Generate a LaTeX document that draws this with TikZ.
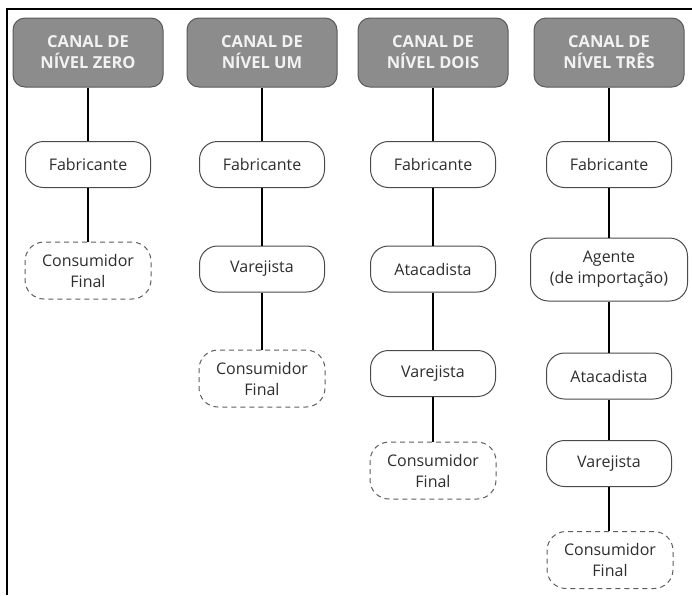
\documentclass[tikz,border=0pt]{standalone}
\usepackage{fontspec}
\setmainfont{Open Sans}
\definecolor{hdrfill}{HTML}{8C8C8C}
\definecolor{hdrdraw}{HTML}{5A5A5A}
\definecolor{hdrtext}{HTML}{F2F2F2}
\definecolor{boxtext}{HTML}{2E2E2E}
\definecolor{boxdraw}{HTML}{4A4A4A}
\definecolor{dashdraw}{HTML}{5E5E5E}
\begin{document}
\begin{tikzpicture}[x=1pt,y=-1pt,
  hdr/.style={draw=hdrdraw, line width=1pt, fill=hdrfill, rounded corners=12pt,
    minimum width=150pt, minimum height=69pt, align=center, text=hdrtext,
    font=\fontsize{16.5}{21}\selectfont\bfseries, inner sep=0pt},
  stage/.style={draw=boxdraw, line width=1pt, rounded corners=18pt,
    minimum width=125pt, minimum height=46pt, align=center, text=boxtext,
    font=\fontsize{16}{21}\selectfont, inner sep=0pt},
  final/.style={draw=dashdraw, line width=1pt, dash pattern=on 5pt off 4pt, rounded corners=19pt,
    minimum width=126pt, minimum height=57pt, align=center, text=boxtext,
    font=\fontsize{16}{21}\selectfont, inner sep=0pt},
  link/.style={line width=1.4pt, draw=black}]
\useasboundingbox (0,0) rectangle (692,595);
\fill[white] (0,0) rectangle (692,595);
\draw[line width=2.4pt] (7,595) -- (7,9) -- (692,9);
% column 1
\node[hdr] (h1) at (88,52.5) {CANAL DE\\NÍVEL ZERO};
\node[stage] (f1) at (88,164.5) {Fabricante};
\node[final] (c1) at (88,270.5) {Consumidor\\Final};
% column 2
\node[hdr] (h2) at (262,52.5) {CANAL DE\\NÍVEL UM};
\node[stage] (f2) at (262,164.5) {Fabricante};
\node[stage] (v2) at (262,269) {Varejista};
\node[final] (c2) at (262,378.5) {Consumidor\\Final};
% column 3
\node[hdr] (h3) at (433,52.5) {CANAL DE\\NÍVEL DOIS};
\node[stage] (f3) at (433,164.5) {Fabricante};
\node[stage] (a3) at (433,269) {Atacadista};
\node[stage] (v3) at (433,373.5) {Varejista};
\node[final] (c3) at (433,470.5) {Consumidor\\Final};
% column 4
\node[hdr] (h4) at (609,52.5) {CANAL DE\\NÍVEL TRÊS};
\node[stage] (f4) at (609,164.5) {Fabricante};
\node[stage, minimum width=157pt, minimum height=63pt] (g4) at (609,269.5) {Agente\\(de importação)};
\node[stage] (a4) at (609,376) {Atacadista};
\node[stage] (v4) at (609,463.5) {Varejista};
\node[final] (c4) at (610,560) {Consumidor\\Final};
% links
\draw[link] (h1) -- (f1); \draw[link] (f1) -- (c1);
\draw[link] (h2) -- (f2); \draw[link] (f2) -- (v2); \draw[link] (v2) -- (c2);
\draw[link] (h3) -- (f3); \draw[link] (f3) -- (a3); \draw[link] (a3) -- (v3); \draw[link] (v3) -- (c3);
\draw[link] (h4) -- (f4); \draw[link] (f4) -- (g4); \draw[link] (g4) -- (a4); \draw[link] (a4) -- (v4); \draw[link] (v4.south) -- (v4.south |- c4.north);
\end{tikzpicture}
\end{document}
